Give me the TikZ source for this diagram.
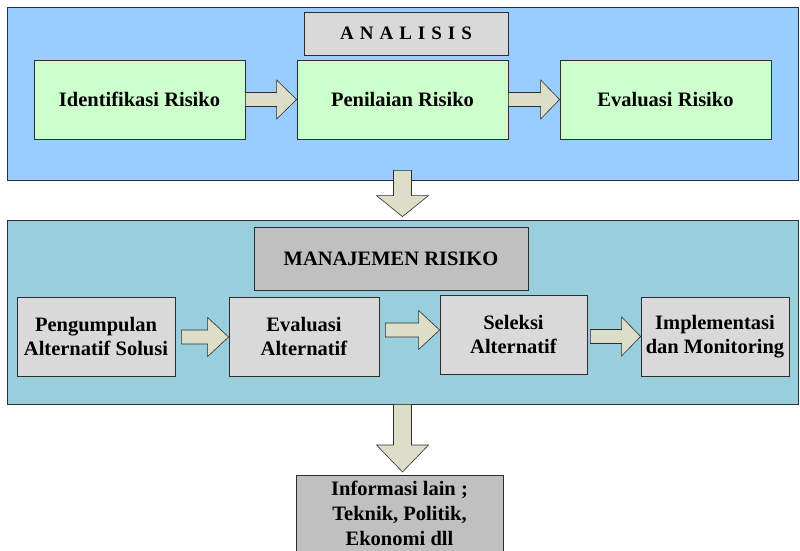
\documentclass[tikz,border=0pt]{standalone}
\usepackage{fontspec}
\setmainfont{Liberation Serif}
\usetikzlibrary{calc}

\definecolor{panelblue}{RGB}{153,204,255}
\definecolor{panelteal}{RGB}{153,206,221}
\definecolor{stepgreen}{RGB}{204,255,204}
\definecolor{lightgrey}{RGB}{217,217,217}
\definecolor{midgrey}{RGB}{192,192,192}
\definecolor{arrowfill}{RGB}{221,222,200}
\definecolor{edge}{RGB}{45,45,45}

% horizontal block arrow: start point, tip point, head length
\newcommand\harrow[3]{%
  \draw[blockarr] let \p1=#1, \p2=#2 in
    (\x1,\y2+7pt) -- (\x2-#3,\y2+7pt) -- (\x2-#3,\y2+19.5pt) -- (\x2,\y2)
    -- (\x2-#3,\y2-19.5pt) -- (\x2-#3,\y2-7pt) -- (\x1,\y2-7pt) -- cycle;}
% downward block arrow: start point, tip point, head length
\newcommand\varrow[3]{%
  \draw[blockarr] let \p1=#1, \p2=#2 in
    (\x1-9pt,\y1) -- (\x1-9pt,\y2+#3) -- (\x1-26pt,\y2+#3) -- (\x1,\y2)
    -- (\x1+26pt,\y2+#3) -- (\x1+9pt,\y2+#3) -- (\x1+9pt,\y1) -- cycle;}

\tikzset{
  panel/.style={draw=edge, line width=0.8pt, minimum width=791pt, inner sep=0pt},
  stepbox/.style={draw=edge, line width=0.8pt, inner sep=0pt, align=center,
    font=\bfseries\fontsize{20.5}{24}\selectfont},
  greenbox/.style={stepbox, fill=stepgreen, minimum width=211pt, minimum height=79pt},
  greybox/.style={stepbox, fill=lightgrey, minimum height=79pt},
  blockarr/.style={draw=edge, line width=0.6pt, fill=arrowfill, line join=miter},
}

\begin{document}
\begin{tikzpicture}[x=1pt, y=1pt]
\clip (0,0) rectangle (800,550);
\fill[white] (0,0) rectangle (800,550);

% analysis panel
\node[panel, fill=panelblue, minimum height=173pt] (panelA) at (402.5,456.5) {};
\node[stepbox, fill=lightgrey, minimum width=204pt, minimum height=43pt,
      font=\bfseries\fontsize{19}{22}\selectfont] (analisis) at (406,516.5)
  {A\hspace{6pt}N\hspace{6pt}A\hspace{6pt}L\hspace{6pt}I\hspace{6pt}S\hspace{6pt}I\hspace{6pt}S};
\node[greenbox] (ident) at (139.5,450.5) {Identifikasi Risiko};
\node[greenbox] (penil) at (402.5,450.5) {Penilaian Risiko};
\node[greenbox] (evris) at (665.5,450.5) {Evaluasi Risiko};

% risk management panel
\node[panel, fill=panelteal, minimum height=184pt] (panelB) at (402.5,238) {};
\node[stepbox, fill=midgrey, minimum width=274pt, minimum height=63pt] (manaj) at (391,291.5) {MANAJEMEN RISIKO};
\node[greybox, minimum width=158pt] (peng) at (96,213.5) {Pengumpulan\\Alternatif Solusi};
\node[greybox, minimum width=150pt] (evalt) at (304,213.5) {Evaluasi\\Alternatif};
\node[greybox, minimum width=147pt] (sel) at (513.5,215.5) {Seleksi\\Alternatif};
\node[greybox, minimum width=148pt] (impl) at (715,213.5) {Implementasi\\dan Monitoring};

% other information
\node[draw=edge, line width=0.8pt, fill=midgrey, minimum width=207pt, minimum height=100pt,
      anchor=north, inner sep=0pt] (info) at (399.5,75) {};
\node[align=center, anchor=north, inner sep=0pt,
      font=\bfseries\fontsize{20.5}{25}\selectfont] (infotext) at ($(info.north)+(0,-5.5)$)
  {Informasi lain ;\\Teknik, Politik,\\Ekonomi dll};

% connectors
\harrow{(ident.east)}{(penil.west)}{20pt}
\harrow{(penil.east)}{(evris.west)}{19pt}
\varrow{($(panelA.south)+(0,10)$)}{($(panelB.north)+(0,3)$)}{21pt}
\harrow{($(peng.east)+(6,0)$)}{($(evalt.west)+(0,-0.5)$)}{21pt}
\harrow{($(evalt.east)+(6,0)$)}{($(sel.west)+(0,4.5)$)}{21pt}
\harrow{($(sel.east)+(3,0)$)}{($(impl.west)+(0,0)$)}{19pt}
\varrow{(panelB.south)}{($(info.north)+(0,3)$)}{27pt}
\end{tikzpicture}
\end{document}
